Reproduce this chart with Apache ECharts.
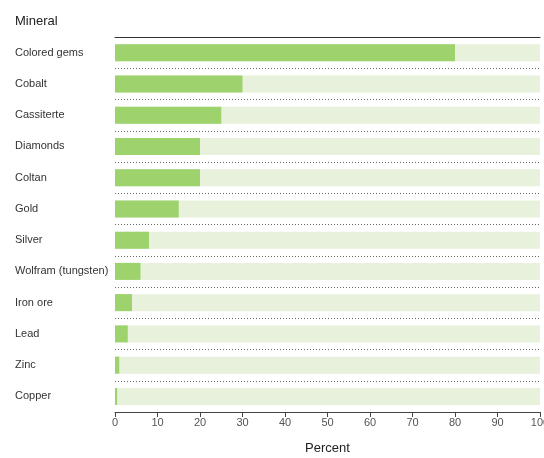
<!DOCTYPE html>
<html>
<head>
<meta charset="utf-8">
<script src="https://cdn.jsdelivr.net/npm/echarts@6/dist/echarts.min.js"></script>
<style>
  html, body { margin: 0; padding: 0; background: #fff; }
  #main { width: 544px; height: 458px; }
</style>
</head>
<body>
<div id="main"></div>
<script>
// categories top to bottom
var minerals = ['Colored gems', 'Cobalt', 'Cassiterte', 'Diamonds', 'Coltan', 'Gold',
  'Silver', 'Wolfram (tungsten)', 'Iron ore', 'Lead', 'Zinc', 'Copper'];
var percent = [80, 30, 25, 20, 20, 15, 8, 6, 4, 3, 1, 0.5];
var xTicks = [0, 10, 20, 30, 40, 50, 60, 70, 80, 90, 100];

var font = 'Liberation Sans, Arial, sans-serif';
var myChart = echarts.init(document.getElementById('main'));

myChart.setOption({
  animation: false,
  textStyle: {fontFamily: font},
  graphic: [
    {type: 'text', left: 15, top: 15, style: {text: 'Mineral', fontSize: 13, fill: '#222', fontFamily: font}}
  ],
  grid: {left: 115, right: 4, top: 37, height: 375, outerBoundsMode: 'none', containLabel: false},
  xAxis: [
    {
      type: 'value', min: xTicks[0], max: xTicks[xTicks.length - 1], interval: 10,
      position: 'bottom',
      axisLine: {show: true, lineStyle: {color: '#444', width: 1}},
      axisTick: {show: true, length: 5, lineStyle: {color: '#444'}},
      axisLabel: {color: '#555', fontSize: 11, margin: 5},
      splitLine: {show: false},
      name: 'Percent', nameLocation: 'middle', nameGap: 30,
      nameTextStyle: {fontSize: 13, color: '#222'}
    },
    {
      // solid line at top of plot
      type: 'value', min: 0, max: 100, position: 'top',
      axisLine: {show: true, lineStyle: {color: '#333', width: 1}},
      axisTick: {show: false}, axisLabel: {show: false}, splitLine: {show: false}
    }
  ],
  yAxis: {
    type: 'category', data: minerals, inverse: true,
    axisLine: {show: false}, axisTick: {show: false},
    axisLabel: {align: 'left', margin: 100, color: '#333', fontSize: 11},
    splitLine: {show: true, interval: 0, lineStyle: {color: '#666', type: [1, 2], width: 1}}
  },
  series: [{
    type: 'bar', data: percent, barWidth: 17,
    itemStyle: {color: '#9dd26c'},
    showBackground: true,
    backgroundStyle: {color: '#e7f1dc'}
  }]
});
</script>
</body>
</html>
